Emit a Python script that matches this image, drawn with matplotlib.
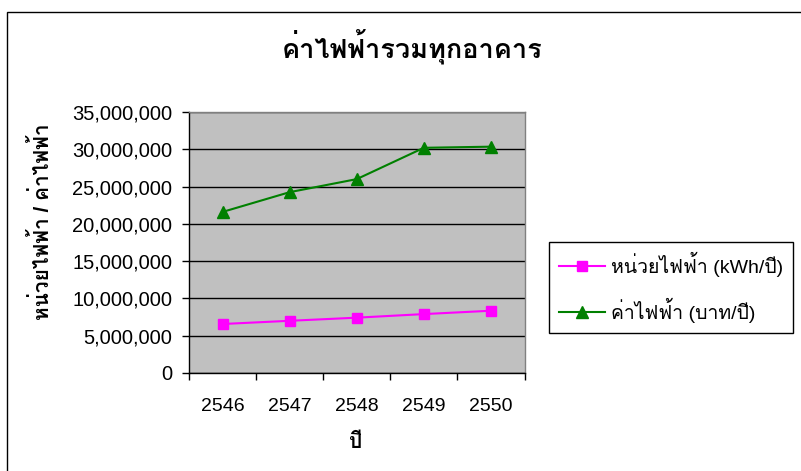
import matplotlib
matplotlib.use("Agg")
import matplotlib.pyplot as plt
from matplotlib.patches import Rectangle
from matplotlib.ticker import FuncFormatter, FixedLocator

plt.rcParams['font.family'] = ['Liberation Sans', 'Loma']

years = ['2546', '2547', '2548', '2549', '2550']
units_kwh = [6.57e6, 7.00e6, 7.42e6, 7.90e6, 8.35e6]
cost_baht = [21.6e6, 24.25e6, 26.0e6, 30.2e6, 30.35e6]

title = 'ค่าไฟฟ้ารวมทุกอาคาร'
xlabel = 'ปี'
ylabel = 'หน่วยไฟฟ้า / ค่าไฟฟ้า'
label_units = 'หน่วยไฟฟ้า (kWh/ปี)'
label_cost = 'ค่าไฟฟ้า (บาท/ปี)'

W, H = 801, 471
fig = plt.figure(figsize=(W / 100, H / 100), dpi=100)

# outer chart frame
fig.patches.append(Rectangle((7 / W, -0.05), 1.1, (H - 12) / H + 0.05,
                             transform=fig.transFigure, fill=False,
                             edgecolor='#000000', linewidth=1.0))

ax = fig.add_axes([189 / W, (H - 373) / H, (524.5 - 189) / W, (373 - 112) / H])
ax.set_facecolor('#C0C0C0')

x = list(range(len(years)))
ax.plot(x, units_kwh, color='#FF00FF', marker='s', markersize=7.5,
        linewidth=1.5, label=label_units, zorder=3)
ax.plot(x, cost_baht, color='#008000', marker='^', markersize=9,
        linewidth=1.5, label=label_cost, zorder=3)

ax.set_xlim(-0.5, len(years) - 0.5)
ax.set_ylim(0, 35e6)
ax.set_yticks([i * 5e6 for i in range(8)])
ax.yaxis.set_major_formatter(FuncFormatter(lambda v, p: f'{int(v):,}'))
ax.grid(axis='y', color='#000000', linewidth=1.0)
ax.set_axisbelow(True)

# category boundaries get tick marks, labels sit at category centres
ax.xaxis.set_major_locator(FixedLocator([i - 0.5 for i in range(len(years) + 1)]))
ax.xaxis.set_major_formatter(FuncFormatter(lambda v, p: ''))
ax.xaxis.set_minor_locator(FixedLocator(x))
ax.set_xticks(x, years, minor=True)
ax.tick_params(axis='x', which='minor', length=0, pad=18, labelsize=14)
ax.tick_params(axis='x', which='major', length=5, width=1, direction='out')
ax.tick_params(axis='y', length=5, width=1, direction='out', pad=7, labelsize=14.5)

for side in ('top', 'right'):
    ax.spines[side].set_color('#808080')
    ax.spines[side].set_linewidth(1.0)
for side in ('left', 'bottom'):
    ax.spines[side].set_color('#000000')
    ax.spines[side].set_linewidth(1.0)

fig.text(412 / W, 1 - 47 / H, title, ha='center', va='center',
         fontsize=19.5, fontweight='bold')
fig.text(356 / W, 1 - 443 / H, xlabel, ha='center', va='center',
         fontsize=15, fontweight='bold')
fig.text(42 / W, 1 - 222 / H, ylabel, ha='center', va='center',
         rotation=90, fontsize=15, fontweight='bold')

leg = fig.legend(loc='center left', bbox_to_anchor=(549 / W, 1 - 287.5 / H),
                 fontsize=14, frameon=True, fancybox=False, shadow=False,
                 edgecolor='#000000', framealpha=1, borderpad=0.5,
                 handlelength=2.4, handletextpad=0.3, labelspacing=1.1,
                 borderaxespad=0)
leg.get_frame().set_linewidth(1.0)

fig.savefig('out.png', dpi=100)
